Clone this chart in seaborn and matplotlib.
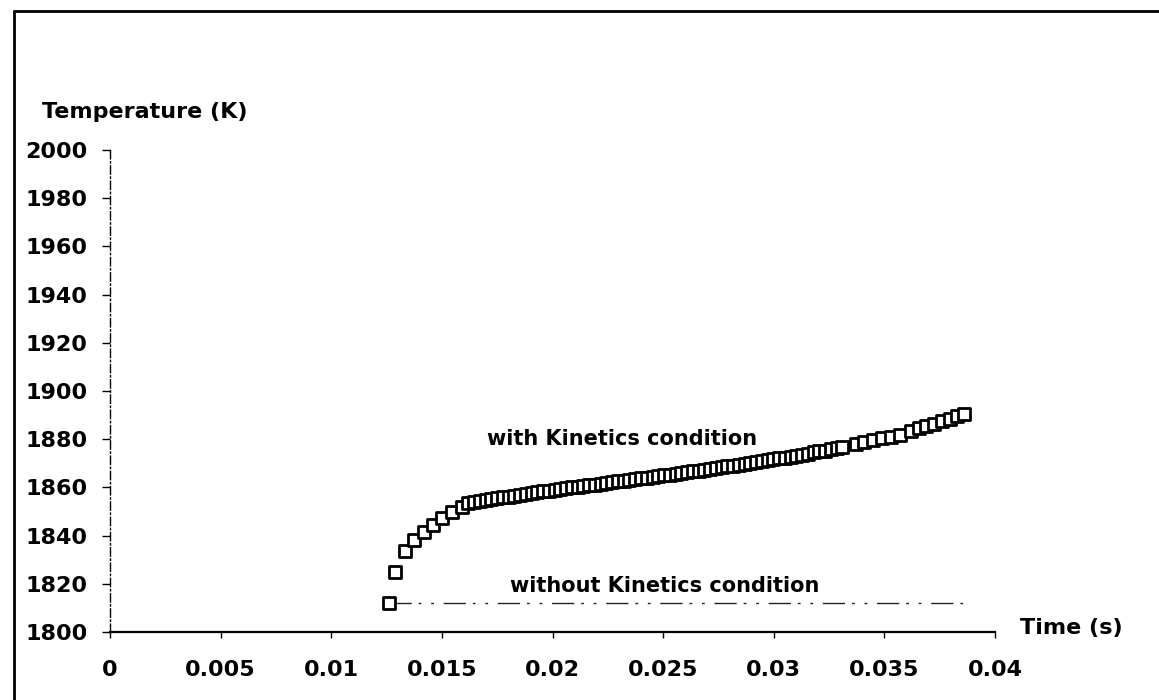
import matplotlib
matplotlib.use("Agg")
import matplotlib.pyplot as plt
import seaborn as sns
import pandas as pd
from matplotlib.lines import Line2D

# ---- data ----
time_with = [0.0129, 0.01335, 0.01375, 0.01418, 0.0146, 0.015, 0.01545, 0.0159,
             0.0162, 0.01646, 0.01672, 0.01698, 0.01724, 0.0175, 0.01776, 0.01802,
             0.01828, 0.01854, 0.0188, 0.01906, 0.01932, 0.01958, 0.01984, 0.0201,
             0.02036, 0.02062, 0.02088, 0.02114, 0.0214, 0.02166, 0.02192, 0.02218,
             0.02244, 0.0227, 0.02296, 0.02322, 0.02348, 0.02374, 0.024, 0.02426,
             0.02452, 0.02478, 0.02504, 0.0253, 0.02556, 0.02582, 0.02608, 0.02634,
             0.0266, 0.02686, 0.02712, 0.02738, 0.02764, 0.0279, 0.02816, 0.02842,
             0.02868, 0.02894, 0.0292, 0.02946, 0.02972, 0.02998, 0.03024, 0.0305,
             0.03076, 0.03102, 0.03128, 0.03154, 0.0318, 0.03206, 0.03232, 0.03258,
             0.03284, 0.0331,
             0.0337, 0.0341, 0.0345, 0.0349, 0.0353, 0.0357,
             0.0362, 0.03655, 0.0369, 0.03725, 0.0376, 0.03795, 0.0383, 0.03862]
temp_with = [1825.0, 1833.5, 1838.0, 1841.5, 1844.5, 1847.3, 1849.6, 1851.8,
             1853.5, 1854.0, 1854.4, 1854.8, 1855.2, 1855.5, 1855.9, 1856.2,
             1856.6, 1856.9, 1857.3, 1857.6, 1857.9, 1858.3, 1858.6, 1859.0,
             1859.3, 1859.6, 1860.0, 1860.3, 1860.6, 1860.9, 1861.2, 1861.6,
             1861.9, 1862.2, 1862.5, 1862.8, 1863.1, 1863.4, 1863.7, 1864.0,
             1864.3, 1864.6, 1865.0, 1865.3, 1865.6, 1866.0, 1866.3, 1866.6,
             1867.0, 1867.3, 1867.6, 1868.0, 1868.3, 1868.7, 1869.0, 1869.4,
             1869.7, 1870.1, 1870.5, 1870.8, 1871.2, 1871.6, 1872.0, 1872.4,
             1872.8, 1873.2, 1873.6, 1874.0, 1874.5, 1874.9, 1875.3, 1875.8,
             1876.2, 1876.7,
             1878.2, 1878.9, 1879.6, 1880.3, 1881.0, 1881.8,
             1883.6, 1884.5, 1885.4, 1886.4, 1887.4, 1888.4, 1889.5, 1890.6]

time_without = [0.01262, 0.03862]
temp_without = [1812.0, 1812.0]

x_ticks = [0, 0.005, 0.01, 0.015, 0.02, 0.025, 0.03, 0.035, 0.04]
x_tick_labels = ["0", "0.005", "0.01", "0.015", "0.02", "0.025", "0.03", "0.035", "0.04"]
y_ticks = [1800, 1820, 1840, 1860, 1880, 1900, 1920, 1940, 1960, 1980, 2000]

df_with = pd.DataFrame({"time": time_with, "temp": temp_with})
df_without = pd.DataFrame({"time": time_without, "temp": temp_without})

# ---- style ----
sns.set_style("white")
plt.rcParams["font.family"] = ["DejaVu Sans"]
plt.rcParams["font.weight"] = "bold"
plt.rcParams["text.color"] = "black"
plt.rcParams["xtick.color"] = "black"
plt.rcParams["ytick.color"] = "black"

FS = 16

fig = plt.figure(figsize=(11.59, 7.0), dpi=100)
ax = fig.add_axes([110 / 1159, 1 - 632 / 700, (995 - 110) / 1159, (632 - 150) / 700])

# without kinetics: line + start marker
sns.lineplot(data=df_without, x="time", y="temp", ax=ax, color="#222222",
             linewidth=1.0, linestyle=(0, (16, 5, 2, 7, 2, 7)), legend=False)
sns.scatterplot(data=df_without.iloc[:1], x="time", y="temp", ax=ax, marker="s",
                s=65, facecolor="white", edgecolor="black", linewidth=2.0, zorder=5,
                legend=False)

# with kinetics: open squares
sns.scatterplot(data=df_with, x="time", y="temp", ax=ax, marker="s", s=65,
                facecolor="white", edgecolor="black", linewidth=2.0, zorder=4,
                legend=False)

ax.set_xlim(0, 0.04)
ax.set_ylim(1800, 2000)
ax.set_xticks(x_ticks)
ax.set_xticklabels(x_tick_labels)
ax.set_yticks(y_ticks)
ax.set_xlabel("")
ax.set_ylabel("")

for s in ["top", "right"]:
    ax.spines[s].set_visible(False)
ax.spines["bottom"].set_color("black")
ax.spines["bottom"].set_linewidth(1.6)
ax.spines["left"].set_color("black")
ax.spines["left"].set_linewidth(1.0)
ax.spines["left"].set_linestyle((0, (6, 2, 1, 2)))

ax.tick_params(axis="y", direction="out", length=6, width=1.0, colors="black",
               labelsize=FS, pad=10, left=True)
ax.tick_params(axis="x", direction="out", length=4, width=1.0, colors="black",
               labelsize=FS, pad=16, bottom=True)
for lab in ax.get_xticklabels() + ax.get_yticklabels():
    lab.set_fontweight("bold")

# texts
fig.text(42 / 1159, 1 - 112 / 700, "Temperature (K)", fontsize=FS, fontweight="bold",
         ha="left", va="center")
fig.text(1020 / 1159, 1 - 628 / 700, "Time (s)", fontsize=FS, fontweight="bold",
         ha="left", va="center")
ax.text(0.01705, 1880, "with Kinetics condition", fontsize=15, fontweight="bold",
        ha="left", va="center")
ax.text(0.0181, 1819, "without Kinetics condition", fontsize=15, fontweight="bold",
        ha="left", va="center")

# outer frame: left and top edges only
fig.add_artist(Line2D([14 / 1159, 14 / 1159], [0, 1 - 11 / 700],
                      transform=fig.transFigure, color="black", linewidth=2.0))
fig.add_artist(Line2D([14 / 1159, 1], [1 - 11 / 700, 1 - 11 / 700],
                      transform=fig.transFigure, color="black", linewidth=2.0))

fig.savefig("out.png", dpi=100)
